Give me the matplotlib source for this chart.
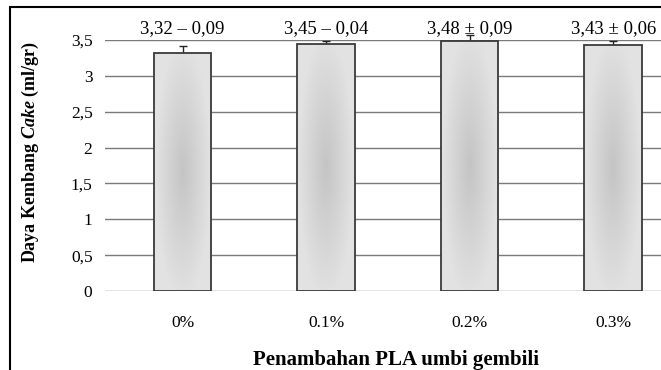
import numpy as np
import matplotlib
matplotlib.use("Agg")
import matplotlib.pyplot as plt
from matplotlib.patches import Rectangle

plt.rcParams['font.family'] = ['Liberation Serif', 'DejaVu Serif']
plt.rcParams['mathtext.fontset'] = 'custom'
plt.rcParams['mathtext.it'] = 'Liberation Serif:italic:bold'
plt.rcParams['mathtext.rm'] = 'Liberation Serif:bold'

categories = ['0%', '0.1%', '0.2%', '0.3%']
means = [3.32, 3.45, 3.48, 3.43]
errors = [0.09, 0.04, 0.09, 0.06]
value_labels = ['3,32 \u2013 0,09', '3,45 \u2013 0,04', '3,48 \u00b1 0,09', '3,43 \u00b1 0,06']
yticks = [0, 0.5, 1, 1.5, 2, 2.5, 3, 3.5]
ytick_labels = ['0', '0,5', '1', '1,5', '2', '2,5', '3', '3,5']

fig = plt.figure(figsize=(6.61, 3.70), dpi=100)
ax = fig.add_axes([105 / 661, 1 - 291 / 370, (661 - 105) / 661, 251 / 370])

x = np.arange(len(categories))
width = 0.4

# radial grey gradient for bar fill, darker in the middle
gy, gx = np.mgrid[-1:1:200j, -1:1:60j]
r = np.clip(np.sqrt(gx ** 2 + (gy * 0.9) ** 2), 0, 1)
shade = 0.77 + (0.89 - 0.77) * r
grad = np.dstack([shade, shade, shade])

ax.set_axisbelow(True)
ax.yaxis.grid(True, color='#7a7a7a', linewidth=1.0)
eb = ax.errorbar(x, means, yerr=errors, fmt='none', ecolor='#222222', elinewidth=1.0,
                 capsize=3, capthick=1.0, zorder=1.5)
for artist in eb.lines[1] + eb.lines[2]:
    artist.set_clip_on(False)
bars = ax.bar(x, means, width, facecolor='none', edgecolor='#3a3a3a', linewidth=1.3, zorder=3)
for b in bars:
    x0, w, h = b.get_x(), b.get_width(), b.get_height()
    im = ax.imshow(grad, extent=[x0, x0 + w, 0, h], aspect='auto', zorder=2, origin='lower')
    im.set_clip_path(b)

for xi, lab in zip(x, value_labels):
    ax.text(xi, 3.66, lab, ha='center', va='center', fontsize=13.5, clip_on=False)

ax.set_xlim(-0.54, 3.333)
ax.set_ylim(0, 3.5)
ax.set_yticks(yticks)
ax.set_yticklabels(ytick_labels, fontsize=12.5)
ax.set_xticks(x)
ax.set_xticklabels(categories, fontsize=12.5)
ax.tick_params(axis='both', length=0)
ax.tick_params(axis='x', pad=17)
ax.tick_params(axis='y', pad=9)
for s in ax.spines.values():
    s.set_visible(False)

fig.text(30 / 661, 1 - 152 / 370, r'Daya Kembang $\it{Cake}$ (ml/gr)', rotation=90,
         ha='center', va='center', fontsize=13, fontweight='bold')
fig.text(396 / 661, 1 - 360 / 370, 'Penambahan PLA umbi gembili', ha='center', va='center',
         fontsize=15, fontweight='bold')

fig.patches.append(Rectangle((10 / 661, -0.1), 1.2, 1 - 7 / 370 + 0.1, transform=fig.transFigure,
                             fill=False, edgecolor='black', linewidth=1.5, figure=fig))

fig.savefig('out.png', dpi=100)
